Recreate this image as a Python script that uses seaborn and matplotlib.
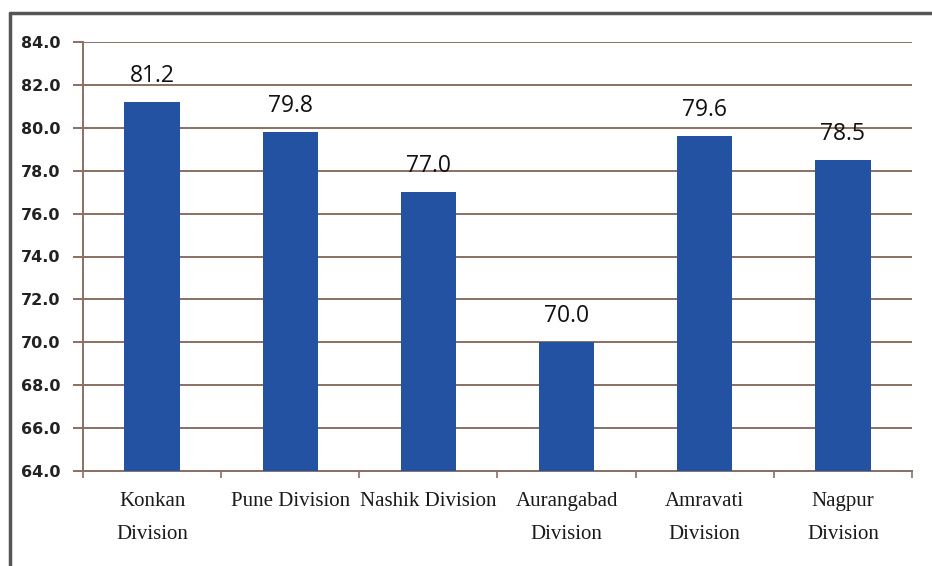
import matplotlib
matplotlib.use("Agg")
import matplotlib.pyplot as plt
import seaborn as sns
import pandas as pd
from matplotlib.lines import Line2D

divisions = ["Konkan\nDivision", "Pune Division", "Nashik Division",
             "Aurangabad\nDivision", "Amravati\nDivision", "Nagpur\nDivision"]
values = [81.2, 79.8, 77.0, 70.0, 79.6, 78.5]
y_ticks = [64, 66, 68, 70, 72, 74, 76, 78, 80, 82, 84]

df = pd.DataFrame({"division": divisions, "value": values})

sns.set_theme(style="white")
bar_color = "#2352a3"
grid_color = "#8a6f63"

fig = plt.figure(figsize=(9.32, 5.66), dpi=100)
ax = fig.add_axes([83 / 932, 1 - 471 / 566, (912 - 83) / 932, (471 - 42) / 566])

sns.barplot(data=df, x="division", y="value", color=bar_color, width=0.4,
            saturation=1, linewidth=0, ax=ax, zorder=3)

ax.set_ylim(64, 84)
ax.set_yticks(y_ticks)
ax.set_yticklabels([f"{t:.1f}" for t in y_ticks], fontsize=11.5, fontweight="bold",
                   family="DejaVu Sans", color="#222222")
for t in y_ticks:
    ax.axhline(t, color=grid_color, lw=1.4, zorder=1)

ax.set_xlim(-0.5, len(divisions) - 0.5)
ax.set_xticks([i - 0.5 for i in range(len(divisions) + 1)], minor=False)
ax.set_xticklabels([])
ax.set_xticks(range(len(divisions)), minor=True)
ax.set_xticklabels(divisions, minor=True, fontsize=15, family="Liberation Serif",
                   color="#1a1a1a", linespacing=2.0, va="top")
ax.tick_params(axis="x", which="major", direction="out", length=5, width=1.2,
               color=grid_color, bottom=True)
ax.tick_params(axis="x", which="minor", length=0, pad=15)
ax.tick_params(axis="y", direction="out", length=7, width=1.4, color=grid_color,
               left=True, pad=9)

for side in ["top", "right"]:
    ax.spines[side].set_visible(False)
for side in ["left", "bottom"]:
    ax.spines[side].set_color(grid_color)
    ax.spines[side].set_linewidth(1.4)
ax.set_xlabel("")
ax.set_ylabel("")

for i, v in enumerate(values):
    ax.annotate(f"{v:.1f}", (i, v), xytext=(0, 10), textcoords="offset points",
                ha="center", va="bottom", fontsize=16.5, family="Open Sans",
                color="#111111")

# outer frame along the top and left edges
fig.add_artist(Line2D([10 / 932, 1.0], [1 - 13 / 566, 1 - 13 / 566],
                      transform=fig.transFigure, color="#555555", lw=2.5))
fig.add_artist(Line2D([10 / 932, 10 / 932], [0, 1 - 13 / 566],
                      transform=fig.transFigure, color="#555555", lw=2.5))

fig.savefig("out.png", dpi=100)
